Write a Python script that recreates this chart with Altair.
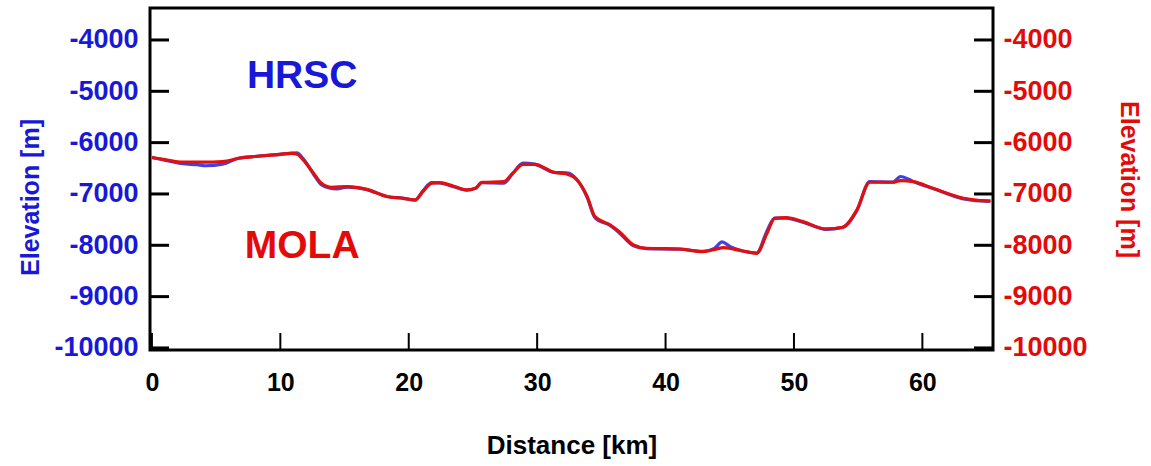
import altair as alt
import pandas as pd

# ---- data ----
hrsc_km = [0.0, 1.0, 2.4, 3.5, 4.2, 5.5, 6.8, 8.0, 9.5, 10.9, 11.3, 11.8, 12.6, 13.2, 14.4, 15.2,
           16.7, 18.3, 19.6, 20.5, 21.1, 21.8, 22.4, 23.5, 24.5, 25.2, 25.7, 27.4, 28.1, 28.9,
           29.8, 31.3, 32.3, 33.1, 33.9, 34.5, 35.7, 36.4, 37.5, 38.5, 41.1, 42.9, 43.8, 44.4,
           45.0, 46.0, 47.1, 47.9, 48.5, 49.4, 50.7, 52.5, 53.8, 54.9, 55.9, 57.7, 58.3, 58.9,
           59.3, 60.8, 63.2, 65.0, 65.3]
hrsc_elev = [-6290, -6340, -6410, -6430, -6450, -6420, -6300, -6270, -6240, -6205, -6200, -6320,
             -6620, -6820, -6900, -6865, -6910, -7050, -7085, -7120, -6940, -6780, -6785, -6860,
             -6925, -6890, -6780, -6790, -6600, -6400, -6420, -6580, -6590, -6720, -7070, -7460,
             -7620, -7760, -8010, -8065, -8075, -8120, -8060, -7935, -8020, -8110, -8150, -7720,
             -7470, -7470, -7550, -7690, -7650, -7320, -6760, -6770, -6660, -6710, -6760, -6890,
             -7095, -7140, -7140]

mola_km = [0.0, 1.0, 2.4, 4.0, 5.5, 6.8, 8.0, 9.5, 10.9, 11.3, 11.8, 12.6, 13.2, 14.0, 15.2,
           16.7, 18.3, 19.6, 20.5, 21.1, 21.8, 22.4, 23.5, 24.5, 25.2, 25.7, 27.4, 28.1, 28.9,
           29.8, 31.3, 32.3, 33.1, 33.9, 34.5, 35.7, 36.4, 37.5, 38.5, 41.1, 42.9, 44.0, 44.5,
           46.0, 47.1, 47.9, 48.5, 49.4, 50.7, 52.5, 53.8, 54.9, 55.9, 57.7, 58.3, 59.3, 60.8,
           63.2, 65.0, 65.3]
mola_elev = [-6290, -6330, -6380, -6380, -6370, -6305, -6270, -6240, -6210, -6225, -6340, -6600,
             -6790, -6870, -6857, -6910, -7050, -7085, -7117, -6955, -6790, -6780, -6850, -6922,
             -6890, -6773, -6760, -6597, -6422, -6422, -6578, -6610, -6727, -7052, -7442, -7604,
             -7735, -7994, -8058, -8072, -8124, -8070, -8046, -8111, -8156, -7766, -7474, -7461,
             -7539, -7682, -7649, -7312, -6772, -6772, -6740, -6760, -6889, -7084, -7136, -7140]

y_ticks = [-10000, -9000, -8000, -7000, -6000, -5000, -4000]
x_ticks = [0, 10, 20, 30, 40, 50, 60]

label_text = ["HRSC", "MOLA"]
label_km = [11.7, 11.7]
label_elev = [-4935, -8247]

# ---- styling ----
W, H = 843, 342
XDOM = [-0.15, 65.5]
YDOM = [-10040, -3377]
BLUE = "#1818d8"
RED = "#e30a0a"
LINE_BLUE = "#4242e2"
LINE_RED = "#e01010"
FONT = "Liberation Sans"
TICK = 19
HYPHEN = "datum.value < 0 ? '-' + (-datum.value) : '' + datum.value"

xs = alt.Scale(domain=XDOM, nice=False, zero=False)
ys = alt.Scale(domain=YDOM, nice=False, zero=False)

hrsc = pd.DataFrame({"km": hrsc_km, "elev": hrsc_elev})
mola = pd.DataFrame({"km": mola_km, "elev": mola_elev})
yt = pd.DataFrame({"v": y_ticks})
xt = pd.DataFrame({"km": x_ticks})

x_axis = alt.Axis(values=x_ticks, title="Distance [km]", ticks=False, tickSize=0, domain=False,
                  grid=False, labelFont=FONT, labelFontSize=25, labelFontWeight="bold",
                  labelColor="black", labelPadding=20, titleFont=FONT, titleFontSize=26,
                  titleFontWeight="bold", titleColor="black", titlePadding=37)


def X():
    return alt.X("km:Q", scale=xs, axis=x_axis)


blue_line = alt.Chart(hrsc).mark_line(color=LINE_BLUE, strokeWidth=3.2, interpolate="monotone").encode(
    x=X(),
    y=alt.Y("elev:Q", scale=ys, axis=alt.Axis(
        orient="left", values=y_ticks, title="Elevation [m]", ticks=False, tickSize=0,
        domain=False, grid=False, labelExpr=HYPHEN, labelFont=FONT, labelFontSize=27,
        labelFontWeight="bold", labelColor=BLUE, labelPadding=12, titleFont=FONT,
        titleFontSize=25, titleFontWeight="bold", titleColor=BLUE, titlePadding=10,
        titleY=H / 2 + 18)),
)

red_line = alt.Chart(mola).mark_line(color=LINE_RED, strokeWidth=3.2, interpolate="monotone").encode(
    x=X(),
    y=alt.Y("elev:Q", scale=ys, axis=alt.Axis(
        orient="right", values=y_ticks, title="Elevation [m]", ticks=False, tickSize=0,
        domain=False, grid=False, labelExpr=HYPHEN, labelFont=FONT, labelFontSize=27,
        labelFontWeight="bold", labelColor=RED, labelPadding=10, titleFont=FONT,
        titleFontSize=25, titleFontWeight="bold", titleColor=RED, titlePadding=28)),
)

left_ticks = alt.Chart(yt).mark_rule(color="black", strokeWidth=3).encode(
    y=alt.Y("v:Q", scale=ys, axis=None), x=alt.value(0), x2=alt.value(TICK))
right_ticks = alt.Chart(yt).mark_rule(color="black", strokeWidth=3).encode(
    y=alt.Y("v:Q", scale=ys, axis=None), x=alt.value(W - TICK), x2=alt.value(W))
bottom_ticks = alt.Chart(xt).mark_rule(color="black", strokeWidth=2).encode(
    x=X(), y=alt.value(H - 17), y2=alt.value(H))

hrsc_lbl = alt.Chart(pd.DataFrame({"t": [label_text[0]], "km": [label_km[0]], "e": [label_elev[0]]})).mark_text(
    font=FONT, fontSize=39, fontWeight="bold", color=BLUE, align="center", baseline="alphabetic"
).encode(x=X(), y=alt.Y("e:Q", scale=ys, axis=None), text="t:N")
mola_lbl = alt.Chart(pd.DataFrame({"t": [label_text[1]], "km": [label_km[1]], "e": [label_elev[1]]})).mark_text(
    font=FONT, fontSize=39, fontWeight="bold", color=RED, align="center", baseline="alphabetic"
).encode(x=X(), y=alt.Y("e:Q", scale=ys, axis=None), text="t:N")

chart = alt.layer(
    blue_line, red_line, left_ticks, right_ticks, bottom_ticks, hrsc_lbl, mola_lbl
).resolve_scale(y="independent").properties(
    width=W, height=H,
    autosize=alt.AutoSizeParams(type="none"),
    padding={"left": 150, "top": 8, "right": 158, "bottom": 116},
    background="white",
).configure_view(stroke="black", strokeWidth=3)

chart.save("out.html", embed_options={"renderer": "svg", "actions": False})
